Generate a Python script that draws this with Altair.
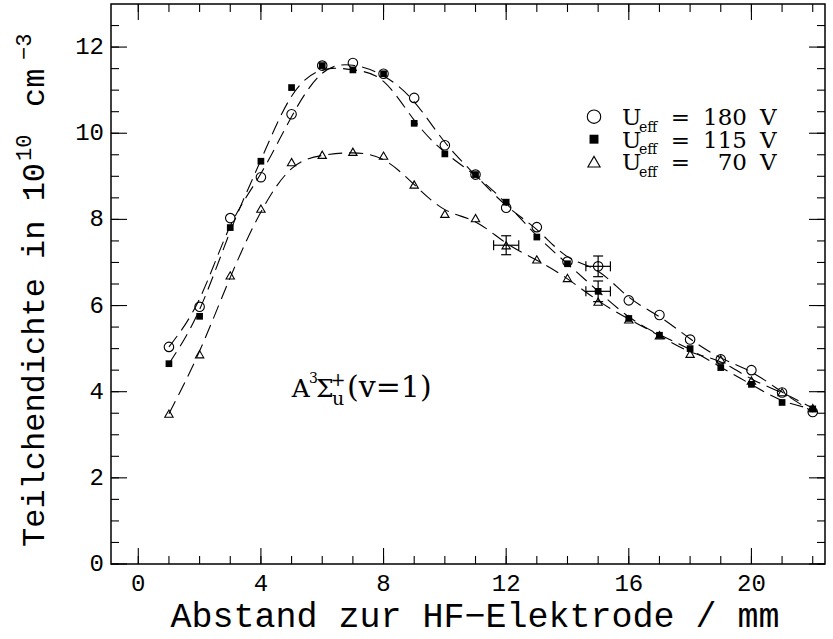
import altair as alt
import pandas as pd

# ---------------- data ----------------
x_mm = list(range(1, 23))
u180 = [5.04, 5.97, 8.03, 8.98, 10.44, 11.57, 11.63, 11.38, 10.82, 9.72, 9.04,
        8.27, 7.82, 7.02, 6.91, 6.12, 5.78, 5.21, 4.75, 4.50, 3.98, 3.53]
u115 = [4.65, 5.75, 7.81, 9.35, 11.06, 11.57, 11.47, 11.38, 10.23, 9.52, 9.04,
        8.40, 7.59, 6.97, 6.33, 5.70, 5.31, 5.00, 4.56, 4.17, 3.75, 3.60]
u70 = [3.49, 4.87, 6.70, 8.25, 9.33, 9.50, 9.57, 9.48, 8.81, 8.13, 8.03,
       7.40, 7.07, 6.64, 6.09, 5.68, 5.31, 4.88, 4.75, 4.26, 3.99, 3.62]
series_names = ["180", "115", "70"]

err_series = ["180", "115", "70"]
err_x = [15, 15, 12]
err_y = [6.91, 6.33, 7.40]
err_dy = [0.24, 0.24, 0.22]
err_dx = [0.40, 0.40, 0.41]

x_major = [0, 4, 8, 12, 16, 20]
x_minor = list(range(0, 23))
y_major = [0, 2, 4, 6, 8, 10, 12]
y_minor = [i * 0.5 for i in range(26)]

x_title = "Abstand zur HF\u2212Elektrode / mm"
y_title_parts = ["Teilchendichte in 10", "10", "cm", "\u22123"]
legend_word = ["U", "eff", "=", "V"]
anno_parts = ["A", "3", "\u03a3", "+", "u", "(v=1)"]

# ---------------- layout / style ----------------
W, H = 714, 560
MONO = "Liberation Mono"
SERIF = "DejaVu Serif"

xs = alt.Scale(domain=[-0.89, 22.4], nice=False, zero=False)
ys = alt.Scale(domain=[0, 13], nice=False, zero=False)
ex = lambda f: alt.X(f, scale=xs, axis=None)
ey = lambda f: alt.Y(f, scale=ys, axis=None)

df = pd.DataFrame({
    "x": x_mm * 3,
    "y": u180 + u115 + u70,
    "s": ["180"] * len(x_mm) + ["115"] * len(x_mm) + ["70"] * len(x_mm),
})

lines = alt.Chart(df).mark_line(interpolate="basis", strokeDash=[14, 7], color="black",
                                strokeWidth=1.1).encode(
    x=ex("x:Q"), y=ey("y:Q"), detail="s:N")

def pts(name, shape, filled, size):
    d = df[df.s == name]
    return alt.Chart(d).mark_point(shape=shape, filled=filled, size=size, color="black",
                                   strokeWidth=1.1, opacity=1).encode(
        x=ex("x:Q"), y=ey("y:Q"))

p180 = pts("180", "circle", False, 90)
p115 = pts("115", "square", True, 45)
p70 = pts("70", "triangle-up", False, 70)

edf = pd.DataFrame({"s": err_series, "x": err_x, "y": err_y})
edf["ylo"] = edf["y"] - pd.Series(err_dy)
edf["yhi"] = edf["y"] + pd.Series(err_dy)
edf["xlo"] = edf["x"] - pd.Series(err_dx)
edf["xhi"] = edf["x"] + pd.Series(err_dx)

ebar_v = alt.Chart(edf).mark_rule(color="black", strokeWidth=1.2).encode(
    x=ex("x:Q"), y=ey("ylo:Q"), y2="yhi:Q")
ebar_h = alt.Chart(edf).mark_rule(color="black", strokeWidth=1.2).encode(
    x=ex("xlo:Q"), x2="xhi:Q", y=ey("y:Q"))
cap_lo = alt.Chart(edf).mark_tick(orient="horizontal", size=10, thickness=1.2, color="black", opacity=1).encode(
    x=ex("x:Q"), y=ey("ylo:Q"))
cap_hi = alt.Chart(edf).mark_tick(orient="horizontal", size=10, thickness=1.2, color="black", opacity=1).encode(
    x=ex("x:Q"), y=ey("yhi:Q"))
cap_l = alt.Chart(edf).mark_tick(orient="vertical", size=10, thickness=1.2, color="black", opacity=1).encode(
    x=ex("xlo:Q"), y=ey("y:Q"))
cap_r = alt.Chart(edf).mark_tick(orient="vertical", size=10, thickness=1.2, color="black", opacity=1).encode(
    x=ex("xhi:Q"), y=ey("y:Q"))

# ---------------- inward ticks on all four sides ----------------
def xticks(vals, L):
    d = pd.DataFrame({"v": vals})
    b = alt.Chart(d).mark_rule(color="black", strokeWidth=1.1).encode(
        x=ex("v:Q"), y=alt.value(H), y2=alt.value(H - L))
    t = alt.Chart(d).mark_rule(color="black", strokeWidth=1.1).encode(
        x=ex("v:Q"), y=alt.value(0), y2=alt.value(L))
    return [b, t]

def yticks(vals, L):
    d = pd.DataFrame({"v": vals})
    l = alt.Chart(d).mark_rule(color="black", strokeWidth=1.1).encode(
        y=ey("v:Q"), x=alt.value(0), x2=alt.value(L))
    r = alt.Chart(d).mark_rule(color="black", strokeWidth=1.1).encode(
        y=ey("v:Q"), x=alt.value(W), x2=alt.value(W - L))
    return [l, r]

ticks = xticks(x_minor, 8) + xticks(x_major, 16) + yticks(y_minor, 8) + yticks(y_major, 16)

# tick labels (through the scales)
xlab = alt.Chart(pd.DataFrame({"v": x_major})).mark_text(
    font=MONO, fontSize=24, baseline="top", align="center", color="black").encode(
    x=ex("v:Q"), y=alt.value(H + 8), text=alt.Text("v:Q", format="d"))
ylab = alt.Chart(pd.DataFrame({"v": y_major})).mark_text(
    font=MONO, fontSize=24, baseline="middle", align="right", color="black").encode(
    y=ey("v:Q"), x=alt.value(-7), text=alt.Text("v:Q", format="d"))

# ---------------- text helpers ----------------
def txt(text, x, y, size, font=MONO, align="left", baseline="alphabetic", angle=0):
    return alt.Chart(pd.DataFrame({"t": [text]})).mark_text(
        font=font, fontSize=size, align=align, baseline=baseline, angle=angle,
        color="black").encode(text="t:N", x=alt.value(x), y=alt.value(y))

xtl = txt(x_title, 364, 623, 35, align="center")

# y-axis title (rotated, with superscripts)
ytl = [
    txt(y_title_parts[0], -67, 543, 32, angle=270),
    txt(y_title_parts[1], -80, 157, 22, angle=270),
    txt(y_title_parts[2], -67, 103, 32, angle=270),
    txt(y_title_parts[3], -80, 56, 22, angle=270),
]

# legend
leg = []
shapes = [("circle", False, 180), ("square", True, 80), ("triangle-up", False, 150)]
for i, name in enumerate(series_names):
    cy = 112.7 + 22.5 * i
    shp, fil, sz = shapes[i]
    leg.append(alt.Chart(pd.DataFrame({"t": [name]})).mark_point(
        shape=shp, filled=fil, size=sz, color="black", strokeWidth=1.1, opacity=1).encode(
        x=alt.value(483), y=alt.value(cy)))
    base = cy + 8.3
    leg += [
        txt(legend_word[0], 511, base, 23, font=SERIF),
        txt(legend_word[1], 528, base + 6.7, 14, font=SERIF),
        txt(legend_word[2], 569.5, base, 23, font=SERIF, align="center"),
        txt(name, 636, base, 23, font=SERIF, align="right"),
        txt(legend_word[3], 649, base, 23, font=SERIF),
    ]

# annotation A^3 Sigma_u^+ (v=1)
ab = 392.7
anno = [
    txt(anno_parts[0], 180.7, ab, 25, font=SERIF),
    txt(anno_parts[1], 198, ab - 13.5, 14, font=SERIF),
    txt(anno_parts[2], 205, ab, 25, font=SERIF),
    txt(anno_parts[3], 227, ab - 10.5, 18, font=SERIF, align="center"),
    txt(anno_parts[4], 227, ab + 8.3, 19, font=SERIF, align="center"),
    txt(anno_parts[5], 236, ab, 30, font=SERIF),
]

chart = alt.layer(
    lines, *ticks, ebar_v, ebar_h, cap_lo, cap_hi, cap_l, cap_r,
    p180, p115, p70, xlab, ylab, xtl, *ytl, *leg, *anno,
).properties(
    width=W, height=H,
    autosize=alt.AutoSizeParams(type="none"),
    padding={"left": 111, "top": 4, "right": 8, "bottom": 75},
    background="white",
).configure_view(stroke="black", strokeWidth=1.5)

chart.save("out.html", embed_options={"renderer": "svg", "actions": False})
